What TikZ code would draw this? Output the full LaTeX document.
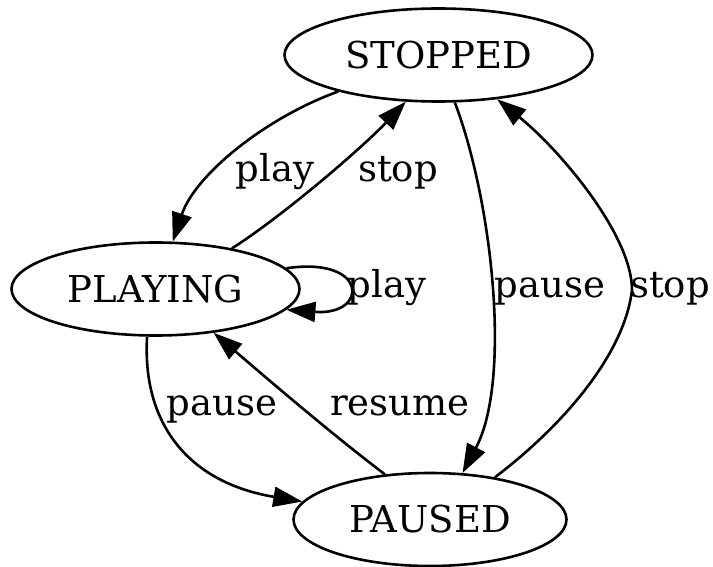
\documentclass[tikz,border=0pt]{standalone}
\usepackage{fontspec}
\setmainfont{DejaVu Serif}
\usetikzlibrary{shapes.geometric,arrows.meta}
\begin{document}
\begin{tikzpicture}[x=1pt,y=-1pt,
  state/.style={draw,ellipse,line width=2.6pt,inner sep=0pt,minimum height=93pt,font=\fontsize{37}{40}\selectfont},
  lbl/.style={font=\fontsize{37}{40}\selectfont,anchor=base,inner sep=0pt},
  edge/.style={line width=2.6pt,-{Triangle[length=29pt,width=20pt]}}]
\useasboundingbox (0,0) rectangle (713,567);
\node[state,minimum width=308pt] (S) at (438.5,55) {STOPPED};
\node[state,minimum width=288pt] (P) at (155.5,289) {PLAYING};
\node[state,minimum width=273pt] (Z) at (430,519.5) {PAUSED};
% STOPPED -> PLAYING (play)
\draw[edge] (S.200) .. controls (265,118) and (195,175) .. (P.70);
\node[lbl] (l1) at (275,182) {play};
% PLAYING -> STOPPED (stop)
\draw[edge] (P.28.5) .. controls (280,218) and (360,150) .. (S.235);
\node[lbl] (l2) at (398,182) {stop};
% PLAYING self loop (play)
\draw[edge] (P.9.3) .. controls (369,256) and (369,316) .. (P.-9.2);
\node[lbl] (l3) at (387,298) {play};
% STOPPED -> PAUSED (pause)
\draw[edge] (S.289) .. controls (492,200) and (512,380) .. (Z.55.8);
\node[lbl] (l4) at (550,298) {pause};
% PAUSED -> STOPPED (stop)
\draw[edge] (Z.33.5) .. controls (570,420) and (625,350) .. (632,290)
  .. controls (632,235) and (560,150) .. (S.323.8);
\node[lbl] (l5) at (670,298) {stop};
% PLAYING -> PAUSED (pause)
\draw[edge] (P.260) .. controls (142,420) and (185,482) .. (Z.172.4);
\node[lbl] (l6) at (222,415) {pause};
% PAUSED -> PLAYING (resume)
\draw[edge] (Z.135) .. controls (328,431) and (270,381) .. (P.323.2);
\node[lbl] (l7) at (400,415) {resume};
\end{tikzpicture}
\end{document}
